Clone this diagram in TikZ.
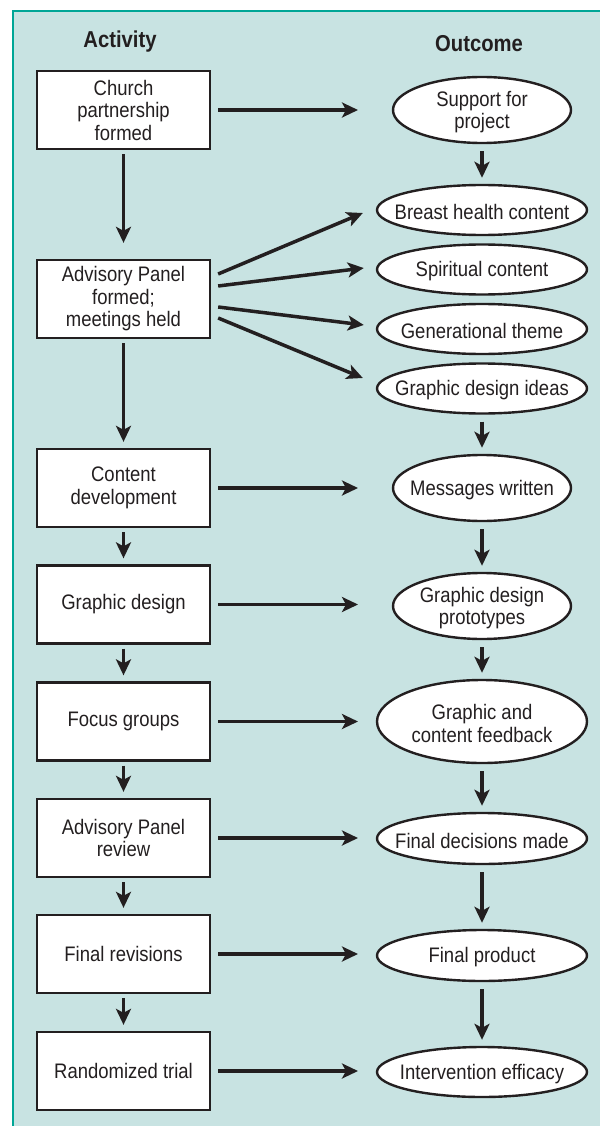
\documentclass[tikz,border=0pt]{standalone}
\usepackage{fontspec}
\setmainfont{Liberation Sans}[FakeStretch=0.88]
\usetikzlibrary{shapes.geometric, arrows.meta, calc}

\definecolor{panelbg}{RGB}{200,227,226}
\definecolor{panelrule}{RGB}{0,166,150}
\definecolor{ink}{RGB}{35,31,32}

\begin{document}
\begin{tikzpicture}[
    x=1pt, y=-1pt, % pixel-like coordinates, y going down
    >={Stealth[length=16pt, width=15pt, inset=4pt]},
    % Styles
    act/.style={ % Activity box
        rectangle,
        draw=ink,
        fill=white,
        line width=2.3pt,
        minimum width=173pt,
        minimum height=78pt,
        inner sep=0pt,
        align=center,
        text=ink,
        font=\fontsize{21pt}{22.5pt}\selectfont
    },
    outc/.style={ % Outcome ellipse
        ellipse,
        draw=ink,
        fill=white,
        line width=2.4pt,
        minimum width=210pt,
        minimum height=50pt,
        inner sep=0pt
    },
    narrow/.style={ % Smaller outcome ellipse
        minimum width=178pt,
        minimum height=66pt
    },
    txt/.style={ % Text inside an outcome
        align=center,
        text=ink,
        yshift=-2pt,
        font=\fontsize{21pt}{22.5pt}\selectfont
    },
    head/.style={ % Column heading
        anchor=base,
        text=ink,
        font=\bfseries\fontsize{23pt}{25pt}\selectfont
    },
    arrow/.style={
        ->,
        draw=ink,
        line width=3.5pt,
        shorten <=5pt,
        shorten >=6pt
    }
]

    % Panel
    \useasboundingbox (0,0) rectangle (600,1126);
    \fill[panelbg] (13,11) rectangle (600,1126);
    \draw[panelrule, line width=2.5pt] (13,1126) -- (13,11) -- (600,11);

    % Column headings
    \node[head] (hact) at (120,48) {Activity};
    \node[head] (hout) at (479,52) {Outcome};

    % Activities
    \node[act] (a1) at (123.5,110) {Church\\partnership\\formed};
    \node[act] (a2) at (123.5,299) {Advisory Panel\\formed;\\meetings held};
    \node[act] (a3) at (123.5,488) {Content\\development};
    \node[act] (a4) at (123.5,604.5) {Graphic design};
    \node[act] (a5) at (123.5,721.5) {Focus groups};
    \node[act] (a6) at (123.5,838) {Advisory Panel\\review};
    \node[act] (a7) at (123.5,954) {Final revisions};
    \node[act] (a8) at (123.5,1071) {Randomized trial};

    % Outcomes
    \node[outc, narrow, label={[txt]center:Support for\\project}] (o1) at (482,110) {};
    \node[outc, label={[txt]center:Breast health content}] (o2) at (482,210) {};
    \node[outc, label={[txt]center:Spiritual content}] (o3) at (482,269.5) {};
    \node[outc, label={[txt]center:Generational theme}] (o4) at (482,329) {};
    \node[outc, label={[txt]center:Graphic design ideas}] (o5) at (482,388.5) {};
    \node[outc, narrow, label={[txt]center:Messages written}] (o6) at (482,488) {};
    \node[outc, narrow, label={[txt]center:Graphic design\\prototypes}] (o7) at (482,606) {};
    \node[outc, minimum height=83pt, label={[txt]center:Graphic and\\content feedback}] (o8) at (482,721.5) {};
    \node[outc, minimum height=51pt, label={[txt]center:Final decisions made}] (o9) at (482,838.5) {};
    \node[outc, minimum height=51pt, label={[txt]center:Final product}] (o10) at (482,955.5) {};
    \node[outc, label={[txt]center:Intervention efficacy}] (o11) at (482,1072) {};

    % Down the activity column
    \draw[arrow, shorten <=4pt, shorten >=16pt] (a1) -- (a2);
    \foreach \i/\j in {2/3, 3/4, 4/5, 5/6, 6/7, 7/8} {
        \draw[arrow, shorten <=4pt] (a\i) -- (a\j);
    }

    % Down the outcome column
    \foreach \i/\j in {1/2, 5/6, 6/7, 7/8, 8/9, 9/10, 10/11} {
        \draw[arrow, shorten <=7pt] (o\i) -- (o\j);
    }

    % Activity to outcome
    \coordinate (tipx) at (358,0);
    \foreach \i in {1, 3, 4, 5, 6, 7, 8} {
        \draw[arrow, shorten <=7pt, shorten >=0pt] (a\i.east) -- (a\i.east -| tipx);
    }

    % Fan from the Advisory Panel
    \foreach \o/\sy/\ex/\ey in {2/-25/-13/3, 3/-13/-12/-1.5, 4/8/-12/-4, 5/19/-13/-10.5} {
        \draw[arrow, shorten <=0pt, shorten >=0pt]
            ($(a2.east)+(7,\sy)$) -- ($(o\o.west)+(\ex,\ey)$);
    }

\end{tikzpicture}
\end{document}
